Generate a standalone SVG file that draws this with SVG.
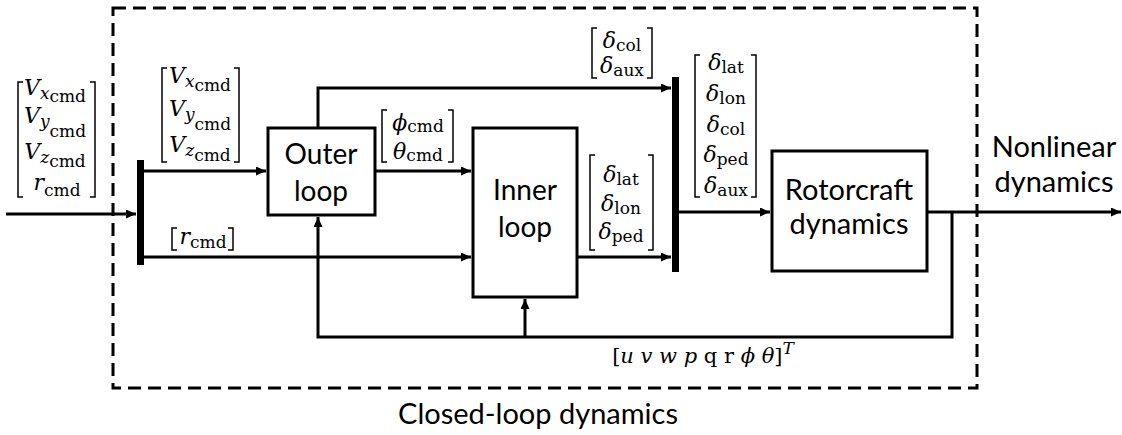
<svg xmlns="http://www.w3.org/2000/svg" width="1122" height="435" viewBox="0 0 1122 435">
<style>
.bg{fill:#fff}
.box{fill:#fff;stroke:#000;stroke-width:3}
.bar{fill:#000}
.ln{fill:none;stroke:#000;stroke-width:3}
.dash{fill:none;stroke:#000;stroke-width:3;stroke-dasharray:13 7}
.br{fill:none;stroke:#000;stroke-width:1.5}
.t{font-family:Lato,"Open Sans",sans-serif;font-size:28px;fill:#000;text-anchor:middle}
.m{font-family:"DejaVu Serif",serif;font-size:22px;fill:#000;text-anchor:middle}
.i{font-style:italic}
.s{font-size:17px}
</style>
<defs>
<marker id="ah" markerUnits="userSpaceOnUse" markerWidth="11" markerHeight="9" refX="10" refY="4.5" orient="auto">
<path d="M0,0 L10,4.5 L0,9 z" fill="#000"/>
</marker>
</defs>
<rect class="bg" x="0" y="0" width="1122" height="435"/>
<rect id="closed-loop-boundary" class="dash" x="113" y="8" width="864" height="380"/>

<g id="connectors">
<path class="ln" d="M6,214 H136" marker-end="url(#ah)"/>
<path class="ln" d="M143,171 H266" marker-end="url(#ah)"/>
<path class="ln" d="M143,257 H471" marker-end="url(#ah)"/>
<path class="ln" d="M318,128 V88 H671" marker-end="url(#ah)"/>
<path class="ln" d="M375,171 H471" marker-end="url(#ah)"/>
<path class="ln" d="M577,257 H671" marker-end="url(#ah)"/>
<path class="ln" d="M679,212 H770" marker-end="url(#ah)"/>
<path class="ln" d="M927,212 H1121" marker-end="url(#ah)"/>
<path class="ln" d="M952,212 V337 H318 V217" marker-end="url(#ah)"/>
<path class="ln" d="M525,337 V299" marker-end="url(#ah)"/>
</g>

<g id="mux1"><rect class="bar" x="137" y="160" width="7" height="105"/></g>
<g id="mux2"><rect class="bar" x="672" y="77" width="7" height="195"/></g>

<g id="outer-loop">
<rect class="box" x="268" y="128" width="107" height="87"/>
<text class="t" x="321" y="164">Outer</text>
<text class="t" x="321" y="201">loop</text>
</g>

<g id="inner-loop">
<rect class="box" x="473" y="128" width="104" height="169"/>
<text class="t" x="525" y="200">Inner</text>
<text class="t" x="525" y="237">loop</text>
</g>

<g id="rotorcraft-dynamics">
<rect class="box" x="772" y="151" width="155" height="120"/>
<text class="t" x="849" y="200" style="font-size:29px">Rotorcraft</text>
<text class="t" x="849" y="234" style="font-size:29px">dynamics</text>
</g>

<g id="nonlinear-label">
<text class="t" x="1054" y="157" style="font-size:29px">Nonlinear</text>
<text class="t" x="1054" y="192" style="font-size:29px">dynamics</text>
</g>

<g id="closed-loop-label">
<text class="t" x="538" y="424" style="font-size:29px">Closed-loop dynamics</text>
</g>

<g id="label-input">
<path class="br" d="M23,82 H18 V197 H23 M90,82 H95 V197 H90"/>
<text class="m" x="55" y="95"><tspan class="i">V</tspan><tspan class="s i" dy="4">x</tspan><tspan class="s" dy="3">cmd</tspan></text>
<text class="m" x="55" y="123"><tspan class="i">V</tspan><tspan class="s i" dy="4">y</tspan><tspan class="s" dy="10">cmd</tspan></text>
<text class="m" x="55" y="159"><tspan class="i">V</tspan><tspan class="s i" dy="4">z</tspan><tspan class="s" dy="4">cmd</tspan></text>
<text class="m" x="57" y="190"><tspan class="i">r</tspan><tspan class="s" dy="6">cmd</tspan></text>
</g>

<g id="label-vel">
<path class="br" d="M167,68 H162 V162 H167 M234,68 H239 V162 H234"/>
<text class="m" x="200" y="83"><tspan class="i">V</tspan><tspan class="s i" dy="4">x</tspan><tspan class="s" dy="4">cmd</tspan></text>
<text class="m" x="200" y="116"><tspan class="i">V</tspan><tspan class="s i" dy="4">y</tspan><tspan class="s" dy="10">cmd</tspan></text>
<text class="m" x="200" y="152"><tspan class="i">V</tspan><tspan class="s i" dy="4">z</tspan><tspan class="s" dy="5">cmd</tspan></text>
</g>

<g id="label-r">
<path class="br" d="M177,228 H172 V250 H177 M228,228 H233 V250 H228"/>
<text class="m" x="203" y="244"><tspan class="i">r</tspan><tspan class="s" dy="4">cmd</tspan></text>
</g>

<g id="label-att">
<path class="br" d="M387,110 H382 V162 H387 M448,110 H453 V162 H448"/>
<text class="m" x="418" y="130"><tspan class="i">ϕ</tspan><tspan class="s" dy="2">cmd</tspan></text>
<text class="m" x="418" y="159"><tspan class="i">θ</tspan><tspan class="s" dy="2">cmd</tspan></text>
</g>

<g id="label-colaux">
<path class="br" d="M597,28 H592 V78 H597 M647,28 H652 V78 H647"/>
<text class="m" x="622" y="48"><tspan class="i">δ</tspan><tspan class="s" dy="3">col</tspan></text>
<text class="m" x="622" y="73"><tspan class="i">δ</tspan><tspan class="s" dy="3">aux</tspan></text>
</g>

<g id="label-inner-out">
<path class="br" d="M595,155 H590 V250 H595 M648,155 H653 V250 H648"/>
<text class="m" x="621" y="182"><tspan class="i">δ</tspan><tspan class="s" dy="3">lat</tspan></text>
<text class="m" x="621" y="211"><tspan class="i">δ</tspan><tspan class="s" dy="3">lon</tspan></text>
<text class="m" x="621" y="239"><tspan class="i">δ</tspan><tspan class="s" dy="3">ped</tspan></text>
</g>

<g id="label-controls">
<path class="br" d="M700,55 H695 V197 H700 M751,55 H756 V197 H751"/>
<text class="m" x="726" y="70"><tspan class="i">δ</tspan><tspan class="s" dy="3">lat</tspan></text>
<text class="m" x="726" y="101"><tspan class="i">δ</tspan><tspan class="s" dy="3">lon</tspan></text>
<text class="m" x="726" y="132"><tspan class="i">δ</tspan><tspan class="s" dy="3">col</tspan></text>
<text class="m" x="726" y="162"><tspan class="i">δ</tspan><tspan class="s" dy="3">ped</tspan></text>
<text class="m" x="726" y="193"><tspan class="i">δ</tspan><tspan class="s" dy="3">aux</tspan></text>
</g>

<g id="label-state">
<text class="m" x="703" y="363" style="font-size:21px">[<tspan class="i">u v w p</tspan> q r <tspan class="i">ϕ θ</tspan>]<tspan class="i s" dy="-9">T</tspan></text>
</g>
</svg>
